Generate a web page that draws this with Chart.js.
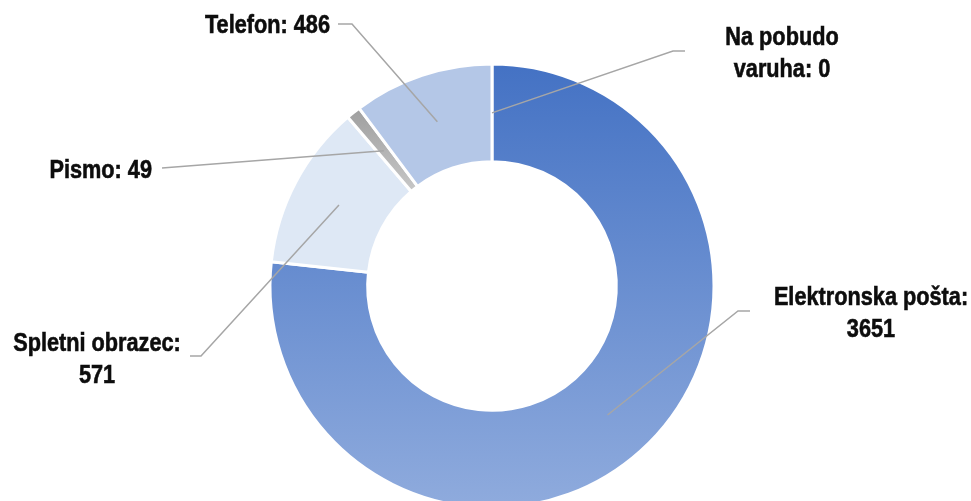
<!DOCTYPE html>
<html>
<head>
<meta charset="utf-8">
<script src="https://cdn.jsdelivr.net/npm/chart.js@4/dist/chart.umd.min.js"></script>
<style>
  html, body { margin: 0; padding: 0; background: #fff; overflow: hidden; }
  #wrap { position: relative; width: 971px; height: 501px; overflow: hidden; }
  #box { position: absolute; left: 0; top: 0; width: 971px; height: 540px; }
</style>
</head>
<body>
<div id="wrap"><div id="box"><canvas id="myChart"></canvas></div></div>
<script>
// dati
var kategorije = ['Elektronska pošta', 'Spletni obrazec', 'Pismo', 'Telefon', 'Na pobudo varuha'];
var vrednosti = [3651, 571, 49, 486, 0];
// testo delle etichette (una riga per elemento)
var etichette = [
  ['Elektronska pošta:', '3651'],
  ['Spletni obrazec:', '571'],
  ['Pismo: 49'],
  ['Telefon: 486'],
  ['Na pobudo', 'varuha: 0']
];

// posizione etichette: x, baseline prima riga, allineamento, gomito della linea
var posEtichette = [
  { x: 871, y: 305, align: 'center', elbow: [738, 311], end: [750, 311] },
  { x: 97, y: 351, align: 'center', elbow: [201, 356], end: [190, 356] },
  { x: 152, y: 178, align: 'right', elbow: [162, 168], end: [162, 168] },
  { x: 330, y: 33, align: 'right', elbow: [352, 24], end: [338, 24] },
  { x: 782, y: 45, align: 'center', elbow: [673, 51], end: [685, 51] }
];

// font "narrow": Liberation Sans bold compresso in orizzontale
var FONT = 'bold 26px "Liberation Sans", Arial, sans-serif';
var STRETTO = 0.835;

function coloreFetta(context) {
  var chart = context.chart;
  var area = chart.chartArea;
  if (!area) return '#4472C4';
  var ctx = chart.ctx;
  var i = context.dataIndex;
  if (i === 0) {
    // gradiente verticale come in Excel
    var g = ctx.createLinearGradient(0, 65, 0, 507);
    g.addColorStop(0, '#4472C4');
    g.addColorStop(1, '#8FABDD');
    return g;
  }
  if (i === 1) return '#DEE8F5';
  if (i === 2) {
    var g2 = ctx.createLinearGradient(0, 110, 0, 190);
    g2.addColorStop(0, '#A0A0A0');
    g2.addColorStop(1, '#C6C6C6');
    return g2;
  }
  if (i === 3) return '#B4C7E7';
  return '#A5A5A5';
}

var etichettePlugin = {
  id: 'etichette',
  afterDatasetsDraw: function(chart) {
    var ctx = chart.ctx;
    var meta = chart.getDatasetMeta(0);
    for (var i = 0; i < meta.data.length; i++) {
      var arc = meta.data[i];
      var p = arc.getCenterPoint();
      var pos = posEtichette[i];
      // linea guida
      ctx.save();
      ctx.beginPath();
      ctx.strokeStyle = '#A6A6A6';
      ctx.lineWidth = 1.5;
      ctx.moveTo(p.x, p.y);
      ctx.lineTo(pos.elbow[0], pos.elbow[1]);
      ctx.lineTo(pos.end[0], pos.end[1]);
      ctx.stroke();
      ctx.restore();
      // testo (un filo di contorno per renderlo piu' pesante)
      for (var r = 0; r < etichette[i].length; r++) {
        ctx.save();
        ctx.translate(pos.x, pos.y + r * 31.5);
        ctx.scale(STRETTO, 1);
        ctx.fillStyle = '#0D0D0D';
        ctx.strokeStyle = '#0D0D0D';
        ctx.lineWidth = 0.6;
        ctx.font = FONT;
        ctx.textAlign = pos.align;
        ctx.textBaseline = 'alphabetic';
        ctx.fillText(etichette[i][r], 0, 0);
        ctx.strokeText(etichette[i][r], 0, 0);
        ctx.restore();
      }
    }
  }
};

var ctx = document.getElementById('myChart').getContext('2d');
var chart = new Chart(ctx, {
  type: 'doughnut',
  data: {
    labels: kategorije,
    datasets: [{
      data: vrednosti,
      backgroundColor: coloreFetta,
      borderColor: '#FFFFFF',
      borderWidth: 3
    }]
  },
  options: {
    responsive: true,
    maintainAspectRatio: false,
    animation: false,
    radius: 222,
    cutout: '56%',
    layout: {
      padding: { left: 13, right: 0, top: 32, bottom: 0 }
    },
    plugins: {
      legend: { display: false },
      tooltip: { enabled: false }
    }
  },
  plugins: [etichettePlugin]
});
</script>
</body>
</html>
